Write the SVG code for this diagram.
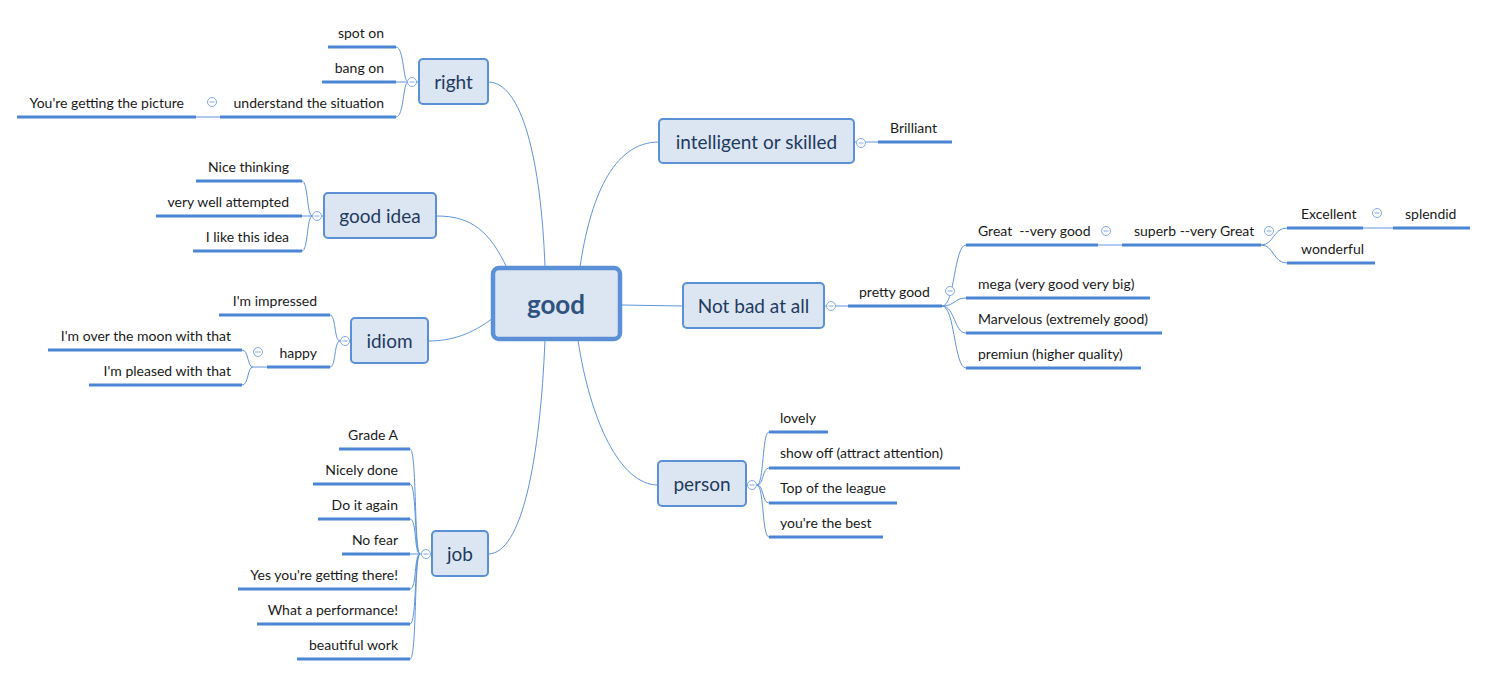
<svg xmlns="http://www.w3.org/2000/svg" width="1487" height="676" viewBox="0 0 1487 676">
<defs>
<style>
.bg{fill:#ffffff}
.topic rect{fill:#dce6f2;stroke:#5b8fd6;stroke-width:2}
.central rect{fill:#dce6f2;stroke:#5b8fd6;stroke-width:4.5}
.ct{font-family:Lato,"Noto Sans",sans-serif;font-size:26px;font-weight:bold;fill:#30527f;text-anchor:middle}
.tt{font-family:Lato,"Noto Sans",sans-serif;font-size:19px;fill:#1f3a60;text-anchor:middle}
.lt{font-family:Lato,"Noto Sans",sans-serif;font-size:14px;fill:#1a1a1a;white-space:pre}
.r{text-anchor:end}
.ul{stroke:#4a86d4;stroke-width:3;fill:none}
.conn path,.conn line{fill:none;stroke:#5f94dc;stroke-width:1}
.col{fill:#ffffff;stroke:#82aae3;stroke-width:1}
.colm{stroke:#82aae3;stroke-width:1}
</style>
<g id="collapse">
<circle class="col" cx="0" cy="0" r="4.5"/>
<line class="colm" x1="-2.5" y1="0" x2="2.5" y2="0"/>
</g>
</defs>
<rect class="bg" x="0" y="0" width="1487" height="676"/>

<g id="connectors" class="conn">
<path d="M545,267 C541,160 522,82 488,82"/>
<path d="M507,268 C490,232 472,216 437,216"/>
<path d="M493,318 C472,334 452,341 428,341"/>
<path d="M545,340 C540,460 522,554 488,554"/>
<path d="M580,267 C590,200 612,142 659,142"/>
<path d="M621,305 L683,306"/>
<path d="M578,340 C590,420 620,485 658,485"/>
<path d="M418,82 L408,82"/>
<path d="M408,82 C403,82 404,47 396,47"/>
<path d="M408,82 L396,82"/>
<path d="M408,82 C403,82 404,117 396,117"/>
<path d="M196,117 L220,117"/>
<path d="M323,216 L312,216"/>
<path d="M312,216 C307,216 308,181 302,181"/>
<path d="M312,216 L302,216"/>
<path d="M312,216 C307,216 308,251 302,251"/>
<path d="M351,341 L340,341"/>
<path d="M340,341 C334,341 336,315 330,315"/>
<path d="M340,341 C334,341 336,367 330,367"/>
<path d="M267,367 L253,367"/>
<path d="M253,367 C247,367 249,350 242,350"/>
<path d="M253,367 C247,367 249,385 242,385"/>
<path d="M432,554 L420,554"/>
<path d="M420,554 C414,554 417,449 410,449"/>
<path d="M420,554 C414,554 417,484 410,484"/>
<path d="M420,554 C414,554 417,519 410,519"/>
<path d="M420,554 L410,554"/>
<path d="M420,554 C414,554 417,589 410,589"/>
<path d="M420,554 C414,554 417,624 410,624"/>
<path d="M420,554 C414,554 417,659 410,659"/>
<path d="M854,142 L878,142"/>
<path d="M824,306 L848,306"/>
<path d="M942,306 C955,306 954,245 966,245"/>
<path d="M942,306 C955,306 954,298 966,298"/>
<path d="M942,306 C955,306 954,333 966,333"/>
<path d="M942,306 C955,306 954,368 966,368"/>
<path d="M1098,245 L1122,245"/>
<path d="M1261,245 C1274,245 1273,228 1287,228"/>
<path d="M1261,245 C1274,245 1273,263 1287,263"/>
<path d="M1363,228 L1393,228"/>
<path d="M746,485 L757,485"/>
<path d="M757,485 C764,485 762,432 769,432"/>
<path d="M757,485 C764,485 762,468 769,468"/>
<path d="M757,485 C764,485 762,503 769,503"/>
<path d="M757,485 C764,485 762,537 769,537"/>
</g>

<g id="good" class="central">
<rect x="493" y="268" width="127" height="71" rx="6"/>
<text class="ct" x="556" y="314">good</text>
</g>

<g id="right" class="topic">
<rect x="419" y="59" width="69" height="45" rx="4"/>
<text class="tt" x="453.5" y="89">right</text>
<use href="#collapse" x="412" y="82"/>
</g>
<g id="spot-on"><line class="ul" x1="328" y1="47" x2="396" y2="47"/><text class="lt r" x="384" y="38">spot on</text></g>
<g id="bang-on"><line class="ul" x1="322" y1="82" x2="396" y2="82"/><text class="lt r" x="384" y="73">bang on</text></g>
<g id="understand"><line class="ul" x1="220" y1="117" x2="396" y2="117"/><text class="lt r" x="384" y="108">understand the situation</text><use href="#collapse" x="212" y="102"/></g>
<g id="picture"><line class="ul" x1="17" y1="117" x2="196" y2="117"/><text class="lt r" x="184" y="108">You're getting the picture</text></g>

<g id="good-idea" class="topic">
<rect x="324" y="193" width="112" height="45" rx="4"/>
<text class="tt" x="380" y="223">good idea</text>
<use href="#collapse" x="317" y="216"/>
</g>
<g id="nice-thinking"><line class="ul" x1="196" y1="181" x2="302" y2="181"/><text class="lt r" x="289" y="172">Nice thinking</text></g>
<g id="very-well"><line class="ul" x1="156" y1="216" x2="302" y2="216"/><text class="lt r" x="289" y="207">very well attempted</text></g>
<g id="like-idea"><line class="ul" x1="193" y1="251" x2="302" y2="251"/><text class="lt r" x="289" y="242">I like this idea</text></g>

<g id="idiom" class="topic">
<rect x="351" y="318" width="77" height="45" rx="4"/>
<text class="tt" x="389.5" y="348">idiom</text>
<use href="#collapse" x="345" y="341"/>
</g>
<g id="impressed"><line class="ul" x1="219" y1="315" x2="330" y2="315"/><text class="lt r" x="317" y="306">I'm impressed</text></g>
<g id="happy"><line class="ul" x1="267" y1="367" x2="330" y2="367"/><text class="lt r" x="317" y="358">happy</text><use href="#collapse" x="258" y="352"/></g>
<g id="moon"><line class="ul" x1="48" y1="350" x2="242" y2="350"/><text class="lt r" x="231" y="341">I'm over the moon with that</text></g>
<g id="pleased"><line class="ul" x1="89" y1="385" x2="242" y2="385"/><text class="lt r" x="231" y="376">I'm pleased with that</text></g>

<g id="job" class="topic">
<rect x="432" y="531" width="56" height="45" rx="4"/>
<text class="tt" x="460" y="561">job</text>
<use href="#collapse" x="426" y="554"/>
</g>
<g id="grade-a"><line class="ul" x1="339" y1="449" x2="410" y2="449"/><text class="lt r" x="398" y="440">Grade A</text></g>
<g id="nicely-done"><line class="ul" x1="313" y1="484" x2="410" y2="484"/><text class="lt r" x="398" y="475">Nicely done</text></g>
<g id="do-it-again"><line class="ul" x1="318" y1="519" x2="410" y2="519"/><text class="lt r" x="398" y="510">Do it again</text></g>
<g id="no-fear"><line class="ul" x1="342" y1="554" x2="410" y2="554"/><text class="lt r" x="398" y="545">No fear</text></g>
<g id="yes-getting"><line class="ul" x1="238" y1="589" x2="410" y2="589"/><text class="lt r" x="398" y="580">Yes you're getting there!</text></g>
<g id="performance"><line class="ul" x1="257" y1="624" x2="410" y2="624"/><text class="lt r" x="398" y="615">What a performance!</text></g>
<g id="beautiful"><line class="ul" x1="297" y1="659" x2="410" y2="659"/><text class="lt r" x="398" y="650">beautiful work</text></g>

<g id="intelligent" class="topic">
<rect x="659" y="119" width="195" height="44" rx="4"/>
<text class="tt" x="756.5" y="149">intelligent or skilled</text>
<use href="#collapse" x="861" y="143"/>
</g>
<g id="brilliant"><line class="ul" x1="878" y1="142" x2="952" y2="142"/><text class="lt" x="890" y="133">Brilliant</text></g>

<g id="not-bad" class="topic">
<rect x="683" y="283" width="141" height="45" rx="4"/>
<text class="tt" x="753.5" y="313">Not bad at all</text>
<use href="#collapse" x="831" y="306"/>
</g>
<g id="pretty-good"><line class="ul" x1="848" y1="306" x2="942" y2="306"/><text class="lt" x="859" y="297">pretty good</text><use href="#collapse" x="950" y="291"/></g>
<g id="great"><line class="ul" x1="966" y1="245" x2="1098" y2="245"/><text class="lt" x="978" y="236" xml:space="preserve">Great  --very good</text><use href="#collapse" x="1106" y="231"/></g>
<g id="superb"><line class="ul" x1="1122" y1="245" x2="1261" y2="245"/><text class="lt" x="1134" y="236">superb --very Great</text><use href="#collapse" x="1269" y="231"/></g>
<g id="excellent"><line class="ul" x1="1287" y1="228" x2="1363" y2="228"/><text class="lt" x="1301" y="219">Excellent</text><use href="#collapse" x="1377" y="213"/></g>
<g id="splendid"><line class="ul" x1="1393" y1="228" x2="1470" y2="228"/><text class="lt" x="1405" y="219">splendid</text></g>
<g id="wonderful"><line class="ul" x1="1287" y1="263" x2="1375" y2="263"/><text class="lt" x="1301" y="254">wonderful</text></g>
<g id="mega"><line class="ul" x1="966" y1="298" x2="1150" y2="298"/><text class="lt" x="978" y="289">mega (very good very big)</text></g>
<g id="marvelous"><line class="ul" x1="966" y1="333" x2="1162" y2="333"/><text class="lt" x="978" y="324">Marvelous (extremely good)</text></g>
<g id="premiun"><line class="ul" x1="966" y1="368" x2="1141" y2="368"/><text class="lt" x="978" y="359">premiun (higher quality)</text></g>

<g id="person" class="topic">
<rect x="658" y="461" width="88" height="45" rx="4"/>
<text class="tt" x="702" y="491">person</text>
<use href="#collapse" x="752" y="485"/>
</g>
<g id="lovely"><line class="ul" x1="769" y1="432" x2="828" y2="432"/><text class="lt" x="780" y="423">lovely</text></g>
<g id="show-off"><line class="ul" x1="769" y1="468" x2="960" y2="468"/><text class="lt" x="780" y="458">show off (attract attention)</text></g>
<g id="top-league"><line class="ul" x1="769" y1="503" x2="897" y2="503"/><text class="lt" x="780" y="493">Top of the league</text></g>
<g id="best"><line class="ul" x1="769" y1="537" x2="883" y2="537"/><text class="lt" x="780" y="528">you're the best</text></g>
</svg>
